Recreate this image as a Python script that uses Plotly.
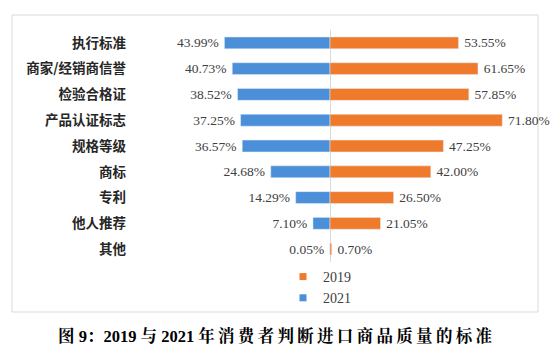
import plotly.graph_objects as go

categories = ["执行标准", "商家/经销商信誉", "检验合格证", "产品认证标志", "规格等级",
              "商标", "专利", "他人推荐", "其他"]
values_2019 = [53.55, 61.65, 57.85, 71.80, 47.25, 42.00, 26.50, 21.05, 0.70]
values_2021 = [43.99, 40.73, 38.52, 37.25, 36.57, 24.68, 14.29, 7.10, 0.05]
series_names = ["2019", "2021"]
title_text = "图 9：2019 与 2021 年消费者判断进口商品质量的标准"

C2019 = "#F07A2C"
C2021 = "#4A8FD8"
num_font = dict(family="Liberation Serif, Times New Roman, serif", size=13.5, color="#404040")


def spaced(s):
    # widen spacing between consecutive CJK characters (Word-style distributed title)
    out = ""
    for i, ch in enumerate(s):
        out += ch
        if i + 1 < len(s) and ord(ch) > 0x3000 and ord(s[i + 1]) > 0x3000 and ch != "：":
            out += "\u2009"
    return out


fig = go.Figure()
fig.add_trace(go.Bar(
    y=categories, x=[-v for v in values_2021], orientation="h", name=series_names[1],
    marker=dict(color=C2021), width=0.46, showlegend=False,
    text=[f"{v:.2f}%\u2009" for v in values_2021], textposition="outside",
    constraintext="none", textfont=num_font, cliponaxis=False,
))
fig.add_trace(go.Bar(
    y=categories, x=values_2019, orientation="h", name=series_names[0],
    marker=dict(color=C2019), width=0.46, showlegend=False,
    text=[f"\u2009{v:.2f}%" for v in values_2019], textposition="outside",
    constraintext="none", textfont=num_font, cliponaxis=False,
))
# legend entries with small square keys
for nm, col in zip(series_names, [C2019, C2021]):
    fig.add_trace(go.Scatter(x=[None], y=[None], mode="markers", name=nm,
                             marker=dict(symbol="square", size=7, color=col),
                             showlegend=True))

L, R, T, B = 135, 23, 30, 99
W, H = 553 - L - R, 361 - T - B


def px(x):
    return (x - L) / W


def py(y):
    return (361 - B - y) / H


fig.update_layout(
    width=553, height=361,
    margin=dict(l=L, r=R, t=T, b=B, pad=0),
    paper_bgcolor="white", plot_bgcolor="white",
    barmode="overlay",
    showlegend=True,
    legend=dict(x=px(283), y=py(261), xanchor="left", yanchor="top",
                font=dict(family=num_font["family"], size=14, color="#404040"),
                itemwidth=30,
                bgcolor="rgba(0,0,0,0)", tracegroupgap=0),
    xaxis=dict(range=[-(330 - L) / 2.4, (553 - R - 330) / 2.4], showgrid=False,
               showticklabels=False, zeroline=True, zerolinecolor="#D9D9D9",
               zerolinewidth=1, fixedrange=True),
    yaxis=dict(autorange="reversed", showgrid=False, ticks="",
               tickfont=dict(family="Noto Sans CJK SC", size=13.5, color="#262626",
                             weight="bold"),
               ticklabelstandoff=8, fixedrange=True),
    font=dict(family="Noto Sans CJK SC"),
    shapes=[dict(type="rect", xref="paper", yref="paper",
                 x0=px(12), x1=px(538), y0=py(312), y1=py(15),
                 line=dict(color="#D9D9D9", width=1), layer="below")],
    annotations=[dict(text="<b>" + spaced(title_text) + "</b>", xref="paper", yref="paper",
                      x=px(275), y=py(336), xanchor="center", yanchor="middle",
                      showarrow=False,
                      font=dict(family="Liberation Serif, Noto Serif CJK SC, Noto Sans CJK SC",
                                size=16.5, color="#000000"))],
)

fig.write_html("out.html", config={"displayModeBar": False},
               post_script="document.body.style.margin='0';")
